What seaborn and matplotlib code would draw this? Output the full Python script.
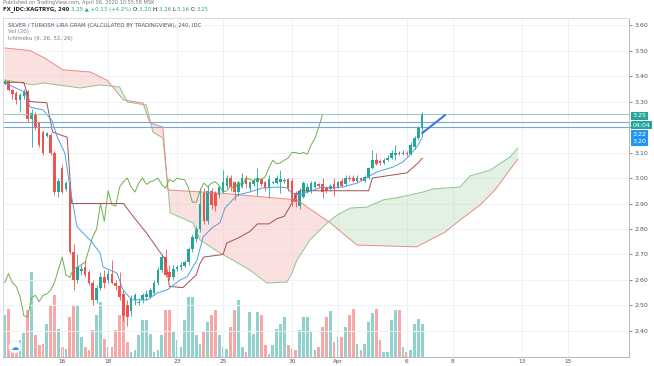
import numpy as np
import matplotlib
matplotlib.use('Agg')
import matplotlib.pyplot as plt
import seaborn as sns

sns.set_theme(style='white')
plt.rcParams['font.family'] = ['DejaVu Sans']

# 240-minute candles, bar index 0..109
opens = [3.37, 3.38, 3.345, 3.335, 3.305, 3.32, 3.34, 3.23, 3.25, 3.215,
         3.18, 3.165, 3.17, 3.10, 2.945, 3.04, 2.955, 2.98, 2.71, 2.60,
         2.635, 2.65, 2.63, 2.59, 2.52, 2.57, 2.61, 2.60, 2.625, 2.59,
         2.575, 2.545, 2.50, 2.48, 2.52, 2.508, 2.52, 2.535, 2.535, 2.55,
         2.59, 2.64, 2.69, 2.63, 2.61, 2.645, 2.65, 2.655, 2.67, 2.72,
         2.76, 2.80, 2.94, 2.83, 2.95, 2.94, 2.935, 2.945, 2.97, 3.00,
         2.985, 2.945, 2.965, 3.00, 2.96, 2.975, 2.985, 2.995, 2.985, 2.96,
         2.98, 2.98, 2.985, 2.99, 2.995, 2.99, 2.94, 2.89, 2.925, 2.945,
         2.95, 2.965, 2.975, 2.975, 2.965, 2.955, 2.975, 2.965, 2.99, 2.975,
         3.00, 3.00, 2.99, 3.00, 2.99, 3.00, 3.04, 3.07, 3.065, 3.06,
         3.07, 3.08, 3.09, 3.10, 3.095, 3.10, 3.095, 3.12, 3.155, 3.20]
highs = [3.39, 3.385, 3.35, 3.34, 3.335, 3.35, 3.345, 3.27, 3.26, 3.22,
         3.19, 3.18, 3.175, 3.105, 3.00, 3.05, 2.99, 2.985, 2.74, 2.70,
         2.66, 2.68, 2.64, 2.60, 2.58, 2.63, 2.64, 2.64, 2.68, 2.60,
         2.63, 2.56, 2.52, 2.54, 2.55, 2.53, 2.55, 2.56, 2.57, 2.60,
         2.65, 2.70, 2.72, 2.66, 2.66, 2.66, 2.67, 2.68, 2.73, 2.78,
         2.81, 2.96, 2.96, 2.97, 2.96, 2.95, 2.97, 3.03, 3.01, 3.01,
         2.99, 2.99, 3.02, 3.01, 2.99, 3.00, 3.04, 3.00, 2.99, 3.01,
         2.99, 3.01, 3.03, 3.00, 3.00, 3.00, 2.95, 2.96, 2.99, 2.98,
         2.99, 2.99, 2.98, 3.00, 2.97, 2.975, 3.00, 2.99, 3.00, 3.01,
         3.01, 3.01, 3.01, 3.005, 3.01, 3.045, 3.11, 3.10, 3.075, 3.08,
         3.09, 3.11, 3.13, 3.105, 3.11, 3.105, 3.14, 3.165, 3.205, 3.26]
lows = [3.365, 3.34, 3.31, 3.29, 3.26, 3.31, 3.22, 3.12, 3.19, 3.12,
        3.09, 3.16, 3.09, 2.935, 2.925, 2.94, 2.95, 2.70, 2.56, 2.59,
        2.62, 2.61, 2.58, 2.50, 2.51, 2.56, 2.57, 2.59, 2.585, 2.56,
        2.52, 2.44, 2.42, 2.46, 2.50, 2.50, 2.51, 2.52, 2.53, 2.54,
        2.58, 2.63, 2.61, 2.60, 2.60, 2.635, 2.64, 2.65, 2.66, 2.71,
        2.75, 2.79, 2.82, 2.82, 2.88, 2.87, 2.92, 2.94, 2.96, 2.95,
        2.915, 2.93, 2.96, 2.96, 2.95, 2.97, 2.93, 2.97, 2.95, 2.92,
        2.975, 2.975, 2.94, 2.98, 2.95, 2.89, 2.885, 2.88, 2.92, 2.94,
        2.94, 2.96, 2.96, 2.92, 2.94, 2.95, 2.93, 2.96, 2.965, 2.97,
        2.99, 2.985, 2.985, 2.99, 2.985, 2.995, 3.035, 3.05, 3.05, 3.055,
        3.065, 3.075, 3.07, 3.09, 3.09, 3.085, 3.09, 3.115, 3.15, 3.16]
closes = [3.38, 3.345, 3.33, 3.305, 3.325, 3.34, 3.23, 3.255, 3.20, 3.13,
          3.10, 3.175, 3.10, 2.945, 2.99, 2.945, 2.98, 2.71, 2.60, 2.65,
          2.645, 2.62, 2.59, 2.52, 2.57, 2.61, 2.59, 2.625, 2.59, 2.575,
          2.535, 2.46, 2.455, 2.53, 2.54, 2.515, 2.54, 2.545, 2.56, 2.59,
          2.64, 2.69, 2.62, 2.61, 2.645, 2.65, 2.66, 2.67, 2.72, 2.77,
          2.80, 2.90, 2.83, 2.95, 2.895, 2.89, 2.965, 2.985, 3.00, 2.965,
          2.945, 2.98, 3.00, 2.975, 2.985, 2.99, 3.00, 2.975, 2.96, 2.995,
          2.985, 3.00, 2.995, 2.993, 2.96, 2.905, 2.905, 2.95, 2.98, 2.965,
          2.98, 2.985, 2.97, 2.945, 2.95, 2.97, 2.955, 2.985, 2.97, 3.00,
          2.995, 2.99, 3.00, 2.993, 3.005, 3.04, 3.07, 3.055, 3.06, 3.07,
          3.078, 3.10, 3.10, 3.095, 3.10, 3.093, 3.13, 3.155, 3.20, 3.25]
volumes = [42, 48, 7, 7, 17, 24, 47, 85, 22, 12, 13, 33, 52, 62, 28, 10, 8, 40, 52, 52,
           20, 10, 7, 27, 42, 55, 18, 10, 10, 27, 42, 55, 15, 5, 7, 22, 37, 37, 23, 5,
           7, 22, 47, 47, 25, 17, 10, 37, 60, 60, 22, 13, 25, 35, 42,
           47, 22, 10, 8, 30, 47, 57, 10, 5, 45, 23, 45, 42, 12, 3, 12, 28, 33, 40, 12,
           8, 7, 27, 40, 40, 25, 7, 10, 30, 40, 46, 15, 20, 20, 30, 42, 48, 13, 7, 13,
           35, 44, 48, 17, 5, 5, 37, 47, 47, 10, 5, 7, 33, 38, 33]

# Ichimoku lines (bar, price vertices)
conv_bars = [0, 4, 5.3, 6.6, 10, 12.3, 13.7, 15.7, 17, 18.9, 22.3, 24.9, 25.7, 29.3, 30.9,
             33.2, 37.2, 39.8, 42.4, 45.8, 47.6, 50.2, 51.8, 54.4, 56.2, 57.5, 60.7, 64,
             67.4, 71.9, 73.7, 75, 77.1, 79, 83, 85, 88.3, 92, 94.8, 97.2, 101.4, 104,
             105.8, 107.6, 109]
conv_vals = [3.373, 3.345, 3.337, 3.278, 3.267, 3.227, 3.161, 3.098, 2.965, 2.808, 2.757,
             2.706, 2.651, 2.627, 2.561, 2.522, 2.522, 2.549, 2.561, 2.60, 2.612, 2.678,
             2.769, 2.808, 2.824, 2.882, 2.933, 2.945, 2.961, 2.965, 2.961, 2.941, 2.933,
             2.945, 2.965, 2.96, 2.965, 2.98, 3.004, 3.024, 3.043, 3.063, 3.09, 3.122, 3.157]
base_bars = [0, 5, 6.5, 11, 12.5, 16.3, 17.5, 31, 33.5, 37, 40.5, 42, 43, 46.5, 50, 51, 52,
             57, 58, 61, 64, 66, 69, 71, 73, 74, 76, 77, 95, 96, 105, 108, 109]
base_vals = [3.375, 3.375, 3.30, 3.295, 3.18, 3.16, 2.90, 2.90, 2.85, 2.785, 2.71, 2.68,
             2.575, 2.57, 2.62, 2.665, 2.69, 2.70, 2.745, 2.765, 2.79, 2.82, 2.82, 2.84,
             2.85, 2.875, 2.93, 2.95, 2.95, 3.0, 3.02, 3.06, 3.078]
span_a_bars = [0, 7.4, 10, 19.7, 24.9, 30, 32, 37, 38.7, 41.3, 42.6, 43.2, 49.2, 51, 56.2,
               59.6, 64, 68.5, 73.7, 75, 76.3, 79.7, 84.2, 86.8, 90.2, 94.6, 98.8, 103.2,
               109.2, 111.8, 118.9, 121.5, 126.7, 131.9, 134]
span_a_vals = [3.384, 3.365, 3.373, 3.353, 3.365, 3.357, 3.298, 3.286, 3.18, 3.157, 2.965,
               2.863, 2.824, 2.757, 2.706, 2.678, 2.639, 2.588, 2.592, 2.627, 2.678, 2.757,
               2.824, 2.855, 2.882, 2.886, 2.914, 2.925, 2.945, 2.957, 2.965, 3.008, 3.031,
               3.082, 3.118]
span_b_bars = [0, 6.6, 10.5, 15.2, 22.3, 26.7, 31, 36.1, 37.9, 41.3, 42.6, 56.2, 76.3, 85,
               92, 107.6, 111, 115, 118.9, 124.1, 128, 134]
span_b_vals = [3.51, 3.50, 3.47, 3.424, 3.416, 3.384, 3.306, 3.294, 3.216, 3.20, 2.953,
               2.941, 2.914, 2.824, 2.737, 2.73, 2.757, 2.788, 2.835, 2.894, 2.953, 3.075]
lag_shift = 26

# drawn levels and projection
levels = [3.22, 3.20]
proj_bars = [109, 115]
proj_vals = [3.176, 3.247]

tick_bars = [15, 27, 45, 57, 75, 87, 105, 117, 135, 147]
tick_labels = ['16', '18', '23', '25', '30', 'Apr', '6', '8', '13', '15']
price_ticks = [2.4, 2.5, 2.6, 2.7, 2.8, 2.9, 3.0, 3.1, 3.2, 3.3, 3.4, 3.5, 3.6]

UP, DOWN = '#26a69a', '#ef5350'

fig = plt.figure(figsize=(6.54, 3.66), dpi=100)
ax = fig.add_axes([3 / 654, 9 / 366, 626 / 654, 339 / 366])
axv = ax.twinx()

n = len(closes)
x = np.arange(n)
o, h, l, c = map(np.array, (opens, highs, lows, closes))
up = c >= o
cols = np.where(up, UP, DOWN)

# volume overlay
axv.bar(x, volumes, width=0.72, color=cols, alpha=0.5, linewidth=0)
axv.set_ylim(0, 339)
axv.set_yticks([])
for s in axv.spines.values():
    s.set_visible(False)
ax.set_zorder(axv.get_zorder() + 1)
ax.patch.set_visible(False)

# grid
for p in price_ticks:
    ax.axhline(p, color='#eef1f7', lw=0.7, zorder=0)
for b in tick_bars:
    ax.axvline(b, color='#eef1f7', lw=0.7, zorder=0)

# cloud
grid = np.union1d(span_a_bars, span_b_bars)
sa = np.interp(grid, span_a_bars, span_a_vals)
sb = np.interp(grid, span_b_bars, span_b_vals)
ax.fill_between(grid, sa, sb, where=sb >= sa, interpolate=True, color='#f8bcbc', alpha=0.45, lw=0)
ax.fill_between(grid, sa, sb, where=sa >= sb, interpolate=True, color='#bfe0bd', alpha=0.45, lw=0)
ax.plot(span_a_bars, span_a_vals, color='#8cc68a', lw=0.7)
ax.plot(span_b_bars, span_b_vals, color='#e88a8a', lw=0.7)

# lines
ax.plot(x[:n - lag_shift], c[lag_shift:], color='#6fae4f', lw=0.7)
ax.plot(base_bars, base_vals, color='#a4504e', lw=0.7)
ax.plot(conv_bars, conv_vals, color='#4ba3e8', lw=0.7)

# horizontal levels
ax.axhline(c[-1], color='#9ccbc6', lw=0.8)
for lv in levels:
    ax.axhline(lv, color='#7aa6dc', lw=0.8)

# candles
ax.vlines(x, l, h, colors=cols, lw=0.6)
body = np.maximum(np.abs(c - o), 0.003)
ax.bar(x, body, bottom=np.minimum(o, c), width=0.68, color=cols, linewidth=0)

ax.plot(proj_bars, proj_vals, color='#3b78d8', lw=1.5, solid_capstyle='round')

ax.set_xlim(-0.444, 163.0)
ax.set_ylim(2.298, 3.6275)

ax.yaxis.tick_right()
ax.set_yticks(price_ticks)
ax.set_yticklabels(['' if abs(p - 3.2) < 1e-6 else f'{p:.2f}' for p in price_ticks])
ax.set_xticks(tick_bars)
ax.set_xticklabels(tick_labels)
ax.tick_params(axis='y', labelsize=4.5, colors='#50535e', length=2, width=0.5, pad=2, right=True)
ax.tick_params(axis='x', labelsize=4.2, colors='#50535e', length=0, pad=1.2, bottom=True)
for side, s in ax.spines.items():
    s.set_linewidth(0.7)
    s.set_color('#d6d9e0')
ax.spines['right'].set_color('#b2b5be')
ax.spines['bottom'].set_color('#b2b5be')

# price labels on the scale
def price_tag(val, txt, bg, dy):
    ax.annotate(txt, xy=(1, val), xycoords=ax.get_yaxis_transform(),
                xytext=(2.5, dy), textcoords='offset points', va='center', ha='left',
                fontsize=4.5, color='white', annotation_clip=False, zorder=10,
                bbox=dict(boxstyle='square,pad=0.3', fc=bg, ec='none'))

price_tag(c[-1], f'{c[-1]:.2f}', UP, -1.2)
price_tag(c[-1], '04:04', UP, -7.8)
price_tag(levels[0], f'{levels[0]:.2f}', '#2196f3', -9.2)
price_tag(levels[1], f'{levels[1]:.2f}', '#2196f3', -10.5)

# headers
fig.text(3 / 654, 1 - 2.5 / 366, 'Published on TradingView.com, April 06, 2020 10:55:58 MSK',
         fontsize=3.6, color='#777777', va='center')

renderer = fig.canvas.get_renderer()
xx = 3 / 654
parts = [('FX_IDC:XAGTRYG, 240 ', '#222222', 'bold'), ('3.25 \u25b2 +0.13 (+4.2%) ', UP, 'normal'),
         ('O:', '#222222', 'normal'), ('3.20 ', UP, 'normal'), ('H:', '#222222', 'normal'),
         ('3.26 ', UP, 'normal'), ('L:', '#222222', 'normal'), ('3.16 ', UP, 'normal'),
         ('C:', '#222222', 'normal'), ('3.25', UP, 'normal')]
for txt, col, wt in parts:
    t = fig.text(xx, 1 - 9.5 / 366, txt, fontsize=3.9, color=col, fontweight=wt, va='center')
    xx += t.get_window_extent(renderer=renderer).width / fig.bbox.width

fig.text(8 / 654, 1 - 25 / 366, 'SILVER / TURKISH LIRA GRAM (CALCULATED BY TRADINGVIEW), 240, IDC',
         fontsize=3.9, color='#4c525e', va='center')
fig.text(8 / 654, 1 - 32 / 366, 'Vol (20)', fontsize=3.9, color='#787b86', va='center')
fig.text(8 / 654, 1 - 38.5 / 366, 'Ichimoku (9, 26, 52, 26)', fontsize=3.9, color='#787b86', va='center')

fig.text(15 / 654, 1 - 347 / 366, '\u2601', fontsize=6, color='#2196f3', ha='center', va='center',
         bbox=dict(boxstyle='circle,pad=0.2', fc='white', ec='#e0e3eb', lw=0.5))

fig.savefig('out.png', dpi=100, facecolor='white')
